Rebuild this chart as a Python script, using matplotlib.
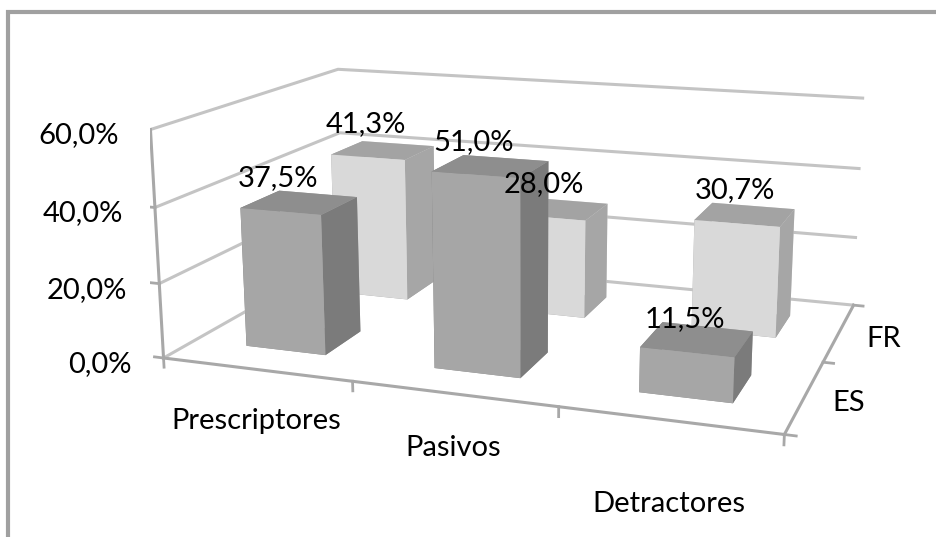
import matplotlib
matplotlib.use('Agg')
import matplotlib.pyplot as plt
from matplotlib.patches import Rectangle
from matplotlib.transforms import offset_copy
import numpy as np

# ---------------- data ----------------
categories = ['Prescriptores', 'Pasivos', 'Detractores']
series = ['ES', 'FR']
es_values = [37.5, 51.0, 11.5]
fr_values = [41.3, 28.0, 30.7]
z_ticks = [0, 20, 40, 60]
z_tick_labels = ['0,0%', '20,0%', '40,0%', '60,0%']

# ---------------- style ----------------
plt.rcParams['font.family'] = ['Lato', 'DejaVu Sans']
FS = 21
W, H = 937, 537
grid_c = '#c4c4c4'
axis_c = '#a8a8a8'
es_faces = ['#8a8a8a', '#8e8e8e', '#a6a6a6', '#a6a6a6', '#7b7b7b', '#7b7b7b']
fr_faces = ['#a0a0a0', '#a3a3a3', '#d9d9d9', '#d9d9d9', '#a6a6a6', '#a6a6a6']
bar_w, bar_d = 0.43, 0.40
XL, YL, ZL = (-0.5, 2.5), (-0.5, 1.5), (0, 60)

fig = plt.figure(figsize=(W / 100, H / 100), dpi=100)
fig.patch.set_facecolor('white')
ax = fig.add_axes([0, 0, 1, 1], projection='3d', computed_zorder=False)
ax.set_facecolor('none')
ax.set_xlim(*XL)
ax.set_ylim(*YL)
ax.set_zlim(*ZL)

# ---- fit the camera so the box corners land where the reference has them
ref_pts3 = np.array([
    (XL[0], YL[0], 0), (XL[0], YL[0], 20), (XL[0], YL[0], 40), (XL[0], YL[0], 60),
    (XL[0], YL[1], 60), (XL[0], YL[1], 40),
    (XL[1], YL[1], 60), (XL[1], YL[1], 40), (XL[1], YL[1], 20), (XL[1], YL[1], 0),
    (XL[1], 0.5, 0), (XL[1], YL[0], 0), (0.5, YL[0], 0), (1.5, YL[0], 0)], float)
ref_px = np.array([
    (163, 357), (159, 285), (155, 208), (152, 131),
    (340, 67), (338, 135),
    (865, 97), (860, 168), (857, 237), (852, 307),
    (825, 362), (785, 435), (352, 380), (557, 406)], float)


def set_view(p):
    elev, azim, f, ay, az = p
    ax.view_init(elev=elev, azim=azim)
    ax.set_proj_type('persp', focal_length=max(f, 0.05))
    ax.set_box_aspect((1.0, max(ay, 0.05), max(az, 0.05)))


def cost(p):
    set_view(p)
    M = ax.get_proj()
    P = np.c_[ref_pts3, np.ones(len(ref_pts3))] @ M.T
    u = P[:, 0] / P[:, 3]
    v = P[:, 1] / P[:, 3]
    n = len(u)
    A = np.zeros((2 * n, 3))
    A[:n, 0] = u
    A[:n, 1] = 1
    A[n:, 0] = -v
    A[n:, 2] = 1
    b = np.r_[ref_px[:, 0], ref_px[:, 1]]
    sol = np.linalg.lstsq(A, b, rcond=None)[0]
    r = A @ sol - b
    return float(r @ r), sol


p = np.array([18.0, -70.0, 0.5, 0.5, 0.45])
steps = np.array([4.0, 4.0, 0.1, 0.08, 0.08])
best, _ = cost(p)
for it in range(120):
    improved = False
    for k in range(len(p)):
        for sgn in (1, -1):
            q = p.copy()
            q[k] += sgn * steps[k]
            if k >= 2 and q[k] <= 0.05:
                continue
            c, _ = cost(q)
            if c < best:
                best, p, improved = c, q, True
    if not improved:
        steps *= 0.5
best, (s, tx, ty) = cost(p)
set_view(p)
x0, x1 = ax.viewLim.intervalx
y0, y1 = ax.viewLim.intervaly
S = s * (x1 - x0)
L = tx + s * x0
B = H - ty + s * y0
ax.set_position([L / W, B / H, S / W, S / H])
ax.apply_aspect()
M = ax.get_proj()


def proj2d(x, y, z):
    P = M @ np.array([x, y, z, 1.0])
    return P[0] / P[3], P[1] / P[3]


def off(dx, dy):
    return offset_copy(ax.transData, fig=fig, x=dx, y=dy, units='dots')


# ---------------- axes styling ----------------
for axis in (ax.xaxis, ax.yaxis, ax.zaxis):
    axis.set_pane_color((1, 1, 1, 0))
    axis.pane.set_edgecolor('none')
    axis.line.set_color(axis_c)
    axis.line.set_linewidth(2.2)
    axis.set_tick_params(labelbottom=False)
    axis.label.set_visible(False)
    axis.offsetText.set_visible(False)
    axis._axinfo['tick']['color'] = axis_c
    axis._axinfo['tick']['linewidth'] = {True: 2, False: 1}
    axis._axinfo['tick']['outward_factor'] = 0.0
    axis._axinfo['tick']['inward_factor'] = 0.0
ax.zaxis.line.set_color((1, 1, 1, 0))
ax.xaxis._axinfo['grid']['linewidth'] = 0
ax.yaxis._axinfo['grid']['linewidth'] = 0
ax.zaxis._axinfo['grid']['linewidth'] = 2.2
ax.zaxis._axinfo['grid']['color'] = grid_c
ax.set_xticks([0.5, 1.5])
ax.set_yticks([0.5])
ax.set_zticks(z_ticks)
for t in (ax.title, ax._left_title, ax._right_title):
    t.set_visible(False)

# front-left vertical axis with its tick marks
ax.plot([XL[0], XL[0]], [YL[0], YL[0]], list(ZL), color=axis_c, lw=2.2, zorder=1)
for z in z_ticks:
    ax.plot([XL[0] - 0.05, XL[0]], [YL[0], YL[0]], [z, z], color=axis_c, lw=2, zorder=1)
for xt in (0.5, 1.5, XL[0], XL[1]):
    ax.plot([xt, xt], [YL[0], YL[0]], [0, -2.5], color=axis_c, lw=2, zorder=1)
for yt in (0.5, YL[0], YL[1]):
    ax.plot([XL[1], XL[1] + 0.05], [yt, yt], [0, 0], color=axis_c, lw=2, zorder=1)

# ---------------- bars ----------------
def fmt(v):
    return f'{v:.1f}%'.replace('.', ',')


for j, (vals, faces, zo) in enumerate([(es_values, es_faces, 3), (fr_values, fr_faces, 2)]):
    for i, v in enumerate(vals):
        ax.bar3d(i - bar_w / 2, j - bar_d / 2, 0, bar_w, bar_d, v, color=faces,
                 shade=False, edgecolor='none', zorder=zo)

# ---------------- texts (placed at projected positions) ----------------
for j, vals in enumerate([es_values, fr_values]):
    for i, v in enumerate(vals):
        u, w = proj2d(i, j - bar_d / 2, v)
        ax.text2D(u, w, fmt(v), ha='center', va='bottom', fontsize=FS,
                  color='black', zorder=10, transform=off(-2, 20))

for z, lab in zip(z_ticks, z_tick_labels):
    u, w = proj2d(XL[0], YL[0], z)
    ax.text2D(u, w, lab, ha='right', va='center', fontsize=FS, zorder=10,
              transform=off(-32, -6))

cat_drop = [52, 54, 84]
for i, c in enumerate(categories):
    u, w = proj2d(i, YL[0], 0)
    ax.text2D(u, w, c, ha='center', va='center', fontsize=FS, zorder=10,
              transform=off(0, -cat_drop[i]))

for j, sname in enumerate(series):
    u, w = proj2d(XL[1], j, 0)
    ax.text2D(u, w, sname, ha='left', va='center', fontsize=FS, zorder=10,
              transform=off(27, -7))

fig.patches.append(Rectangle((8 / W, -0.1), 1.2, 1 - 12 / H + 0.1,
                             transform=fig.transFigure, fill=False,
                             ec='#a0a0a0', lw=3))
fig.savefig('out.png', dpi=100, facecolor='white')
